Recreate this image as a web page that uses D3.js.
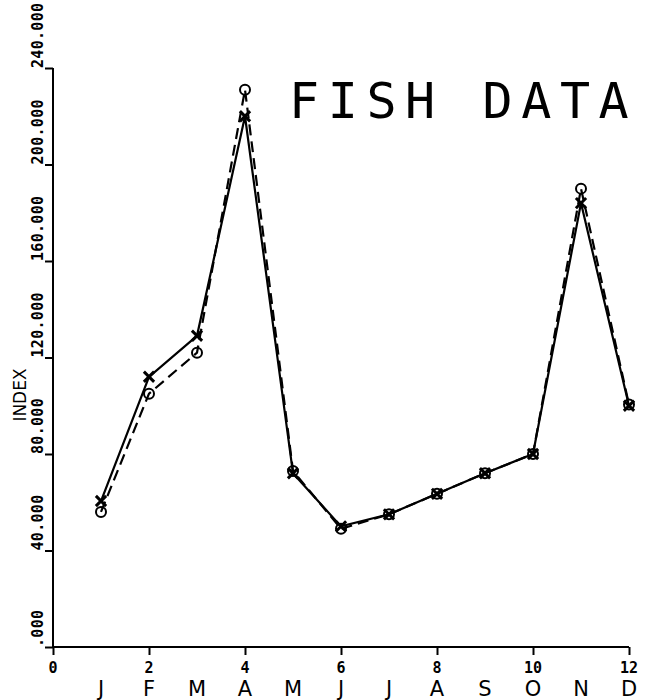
<!DOCTYPE html>
<html>
<head>
<meta charset="utf-8">
<script src="https://cdn.jsdelivr.net/npm/d3@7"></script>
<style>
  body { margin: 0; background: #fff; }
  svg { display: block; }
</style>
</head>
<body>
<script>
// data
const months = [1, 2, 3, 4, 5, 6, 7, 8, 9, 10, 11, 12]
const monthLetters = ["J", "F", "M", "A", "M", "J", "J", "A", "S", "O", "N", "D"]
const solidSeries = [60.5, 112, 129, 220, 72, 50, 55, 63.5, 72, 80, 184, 100]
const dashedSeries = [56, 105, 122, 231, 73, 49, 55, 63.5, 72, 80, 190, 100.5]
const yTicks = [0, 40, 80, 120, 160, 200, 240]
const xTicks = [0, 2, 4, 6, 8, 10, 12]

const width = 649, height = 700

const svg = d3.select("body").append("svg")
  .attr("width", width)
  .attr("height", height)

const x = d3.scaleLinear().domain([0, 12]).range([53, 629])
const y = d3.scaleLinear().domain([0, 240]).range([647, 68])

// y axis
const yAxis = svg.append("g")
  .attr("transform", `translate(${x(0)},0)`)
  .call(d3.axisLeft(y).tickValues(yTicks).tickSize(8).tickFormat(""))
yAxis.select(".domain").attr("d", `M0,${y(0)}V${y(240)}`)
yAxis.selectAll("path, line").attr("stroke", "#000").attr("stroke-width", 2)

// y tick labels, rotated, starting at the tick
svg.append("g").selectAll("text")
  .data(yTicks)
  .join("text")
  .attr("transform", d => `translate(43,${y(d)}) rotate(-90)`)
  .attr("text-anchor", "start")
  .attr("font-family", "DejaVu Sans Mono")
  .attr("font-weight", "bold")
  .attr("font-size", 15)
  .attr("letter-spacing", 0.3)
  .text(d => d === 0 ? ".000" : d3.format(".3f")(d))

// x axis
const xAxis = svg.append("g")
  .attr("transform", `translate(0,${y(0)})`)
  .call(d3.axisBottom(x).tickValues(xTicks).tickSize(8).tickFormat(""))
xAxis.select(".domain").attr("d", `M${x(0)},0H${x(12)}`)
xAxis.selectAll("path, line").attr("stroke", "#000").attr("stroke-width", 2)

svg.append("g").selectAll("text")
  .data(xTicks)
  .join("text")
  .attr("x", d => x(d))
  .attr("y", 673)
  .attr("text-anchor", "middle")
  .attr("font-family", "DejaVu Sans Mono")
  .attr("font-weight", "bold")
  .attr("font-size", 15)
  .text(d => d)

svg.append("g").selectAll("text")
  .data(monthLetters)
  .join("text")
  .attr("x", (d, i) => x(months[i]))
  .attr("y", 696)
  .attr("text-anchor", "middle")
  .attr("font-family", "DejaVu Sans")
  .attr("font-size", 21)
  .text(d => d)

// axis title
svg.append("text")
  .attr("transform", `translate(26,395) rotate(-90)`)
  .attr("text-anchor", "middle")
  .attr("font-family", "DejaVu Sans")
  .attr("font-size", 17)
  .text("INDEX")

// chart title
svg.append("text")
  .attr("x", 289)
  .attr("y", 118)
  .attr("font-family", "DejaVu Sans Mono")
  .attr("font-weight", 300)
  .attr("font-size", 50)
  .attr("letter-spacing", 8.6)
  .attr("fill", "#000")
  .text("FISH DATA")

const line = d3.line()
  .x((d, i) => x(months[i]))
  .y(d => y(d))

// dashed series with circles
svg.append("path")
  .datum(dashedSeries)
  .attr("d", line)
  .attr("fill", "none")
  .attr("stroke", "#000")
  .attr("stroke-width", 2.2)
  .attr("stroke-dasharray", "11,6")

svg.append("g").selectAll("circle")
  .data(dashedSeries)
  .join("circle")
  .attr("cx", (d, i) => x(months[i]))
  .attr("cy", d => y(d))
  .attr("r", 5)
  .attr("fill", "none")
  .attr("stroke", "#000")
  .attr("stroke-width", 2)

// solid series with x markers
svg.append("path")
  .datum(solidSeries)
  .attr("d", line)
  .attr("fill", "none")
  .attr("stroke", "#000")
  .attr("stroke-width", 2.2)

svg.append("g").selectAll("path")
  .data(solidSeries)
  .join("path")
  .attr("transform", (d, i) => `translate(${x(months[i])},${y(d)})`)
  .attr("d", d3.symbol(d3.symbolX, 70))
  .attr("fill", "none")
  .attr("stroke", "#000")
  .attr("stroke-width", 3)
</script>
</body>
</html>
